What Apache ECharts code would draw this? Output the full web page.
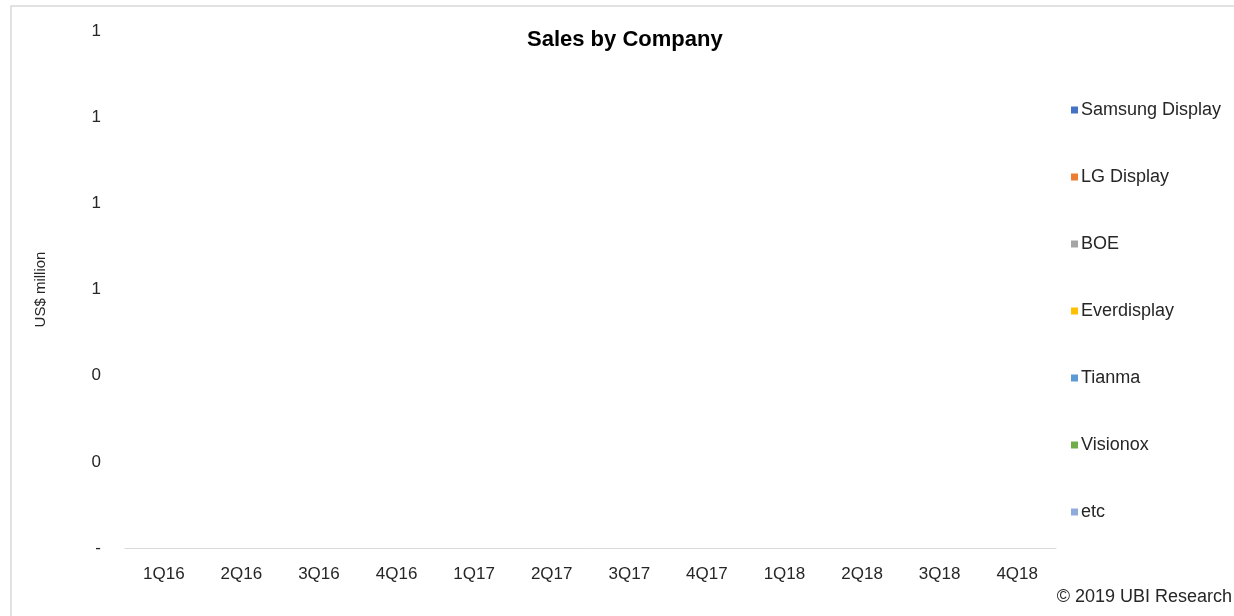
<!DOCTYPE html>
<html>
<head>
<meta charset="utf-8">
<script src="https://cdn.jsdelivr.net/npm/echarts@6/dist/echarts.min.js"></script>
<style>
  html, body { margin: 0; padding: 0; background: #fff; }
  #chart { width: 1234px; height: 616px; }
</style>
</head>
<body>
<div id="chart"></div>
<script>
(function () {
  var quarters = ['1Q16', '2Q16', '3Q16', '4Q16', '1Q17', '2Q17', '3Q17', '4Q17', '1Q18', '2Q18', '3Q18', '4Q18'];
  var companies = ['Samsung Display', 'LG Display', 'BOE', 'Everdisplay', 'Tianma', 'Visionox', 'etc'];
  var colors = ['#4472c4', '#ed7d31', '#a5a5a5', '#ffc000', '#5b9bd5', '#70ad47', '#8faadc'];
  // the reference shows no bars: every value is empty (zero)
  var samsung = [0, 0, 0, 0, 0, 0, 0, 0, 0, 0, 0, 0];
  var lgd = [0, 0, 0, 0, 0, 0, 0, 0, 0, 0, 0, 0];
  var boe = [0, 0, 0, 0, 0, 0, 0, 0, 0, 0, 0, 0];
  var everdisplay = [0, 0, 0, 0, 0, 0, 0, 0, 0, 0, 0, 0];
  var tianma = [0, 0, 0, 0, 0, 0, 0, 0, 0, 0, 0, 0];
  var visionox = [0, 0, 0, 0, 0, 0, 0, 0, 0, 0, 0, 0];
  var etc = [0, 0, 0, 0, 0, 0, 0, 0, 0, 0, 0, 0];
  var values = [samsung, lgd, boe, everdisplay, tianma, visionox, etc];

  var font = '"Liberation Sans", Arial, sans-serif';
  var chart = echarts.init(document.getElementById('chart'), null, { renderer: 'canvas' });

  chart.setOption({
    animation: false,
    color: colors,
    textStyle: { fontFamily: font },
    title: {
      text: 'Sales by Company',
      left: 522,
      top: 24,
      textStyle: { fontFamily: font, fontSize: 22, fontWeight: 'bold', color: '#000' }
    },
    legend: {
      orient: 'vertical',
      left: 1066,
      top: 96,
      itemWidth: 7,
      itemHeight: 7,
      itemGap: 49,
      icon: 'rect',
      textStyle: { fontFamily: font, fontSize: 18, lineHeight: 18, color: '#262626', padding: [0, 0, 0, -2] },
      data: companies
    },
    grid: { left: 125, right: 178, top: 31, bottom: 68 },
    xAxis: {
      type: 'category',
      data: quarters,
      axisLine: { lineStyle: { color: '#d9d9d9', width: 1 } },
      axisTick: { show: false },
      axisLabel: { color: '#262626', fontSize: 17, fontFamily: font, margin: 18 }
    },
    yAxis: {
      type: 'value',
      min: 0,
      max: 1.2,
      interval: 0.2,
      name: 'US$ million',
      nameLocation: 'middle',
      nameGap: 77,
      nameRotate: 90,
      nameTextStyle: { color: '#262626', fontSize: 15, fontFamily: font },
      axisLine: { show: false },
      axisTick: { show: false },
      splitLine: { show: false },
      axisLabel: {
        color: '#262626',
        fontSize: 17,
        fontFamily: font,
        margin: 24,
        formatter: function (v) { return v === 0 ? '-' : String(Math.round(v)); }
      }
    },
    series: companies.map(function (name, i) {
      return {
        name: name,
        type: 'bar',
        stack: 'total',
        barWidth: '55%',
        data: values[i]
      };
    }),
    graphic: [
      {
        type: 'rect',
        shape: { x: 11, y: 6, width: 1240, height: 640 },
        style: { fill: 'none', stroke: '#d9d9d9', lineWidth: 1.5 },
        silent: true
      },
      {
        type: 'text',
        right: 2,
        top: 588,
        style: { text: '\u00a9 2019 UBI Research', font: '18px ' + font, fill: '#262626' }
      }
    ]
  });
  window.addEventListener('resize', function () { chart.resize(); });
})();
</script>
</body>
</html>
